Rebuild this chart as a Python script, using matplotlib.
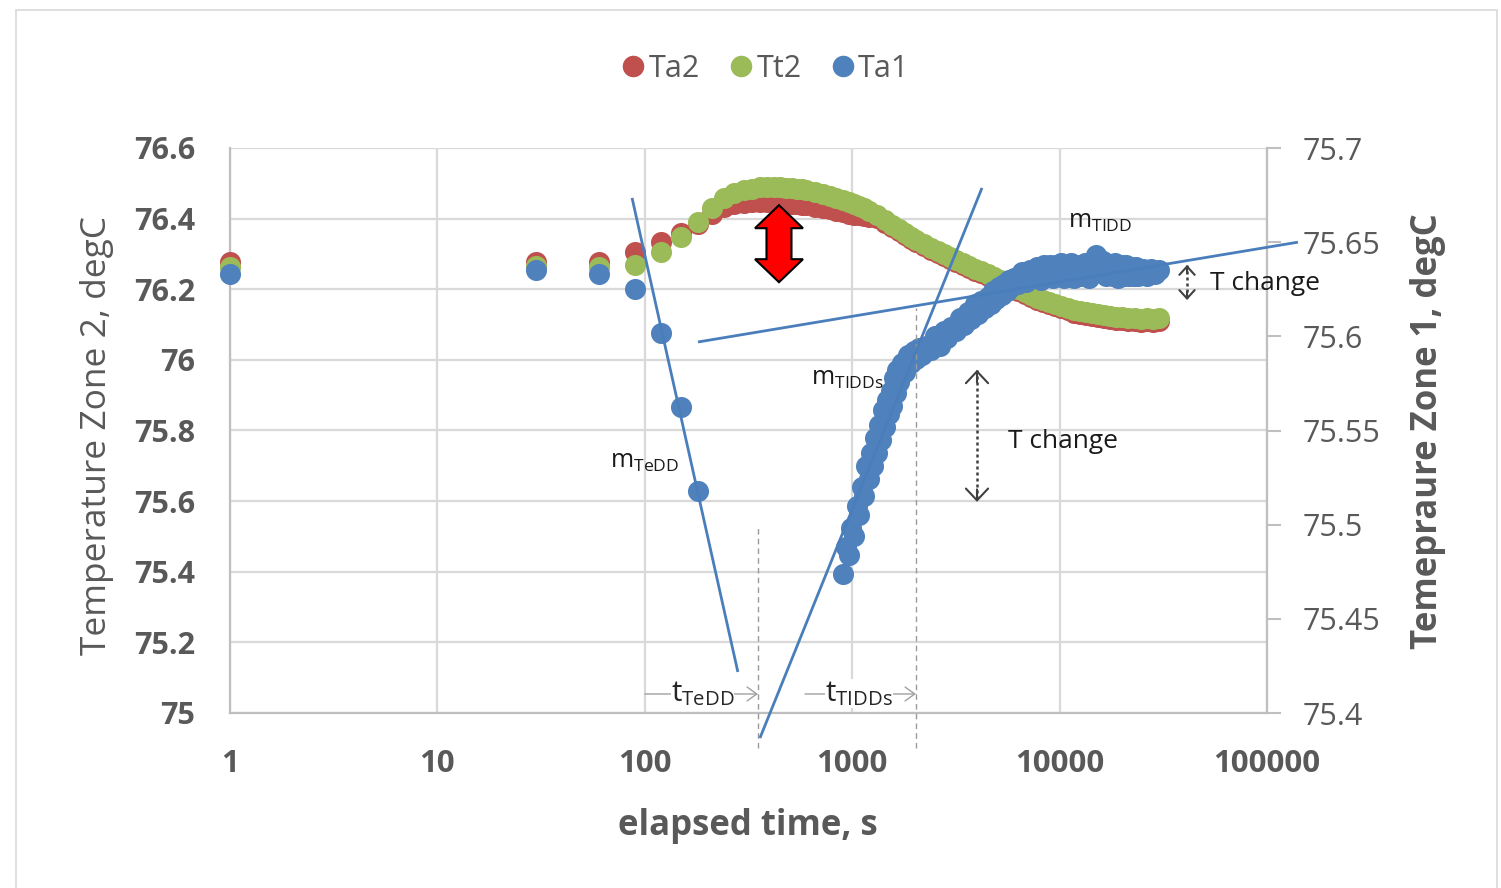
import matplotlib
matplotlib.use("Agg")
import matplotlib.pyplot as plt
import matplotlib.transforms as mtransforms
from matplotlib.patches import Polygon, Rectangle
from matplotlib.lines import Line2D
from matplotlib.ticker import NullLocator

plt.rcParams['font.family'] = ['Open Sans', 'DejaVu Sans']
plt.rcParams['mathtext.default'] = 'regular'

# ---------------- data ----------------
t_early = [1, 30, 60, 90, 120, 150, 180]
ta2_early = [76.276, 76.276, 76.276, 76.305, 76.333, 76.359, 76.384]
tt2_early = [76.262, 76.265, 76.262, 76.268, 76.305, 76.347, 76.390]
ta1_early = [75.633, 75.635, 75.633, 75.625, 75.602, 75.5625, 75.518]

t_zone2 = [210, 240, 270, 300, 330, 360, 390, 420, 450, 480, 510, 540, 570, 600,
           660, 720, 780, 840, 900, 960, 1020, 1080, 1140, 1200, 1320, 1440, 1560,
           1680, 1800, 1920, 2040, 2220, 2400, 2580, 2760, 2970, 3180, 3420, 3660,
           3930, 4200, 4500, 4830, 5160, 5520, 5910, 6330, 6780, 7260, 7770, 8310,
           8910, 9540, 10200, 10920, 11700, 12510, 13380, 14310, 15300, 16380,
           17520, 18750, 20070, 21480, 22980, 24600, 26310, 28170, 30000]
ta2_zone2 = [76.412, 76.432, 76.441, 76.444, 76.446, 76.446, 76.446, 76.446, 76.444,
             76.444, 76.441, 76.441, 76.438, 76.438, 76.432, 76.429, 76.427, 76.421,
             76.418, 76.414, 76.411, 76.409, 76.407, 76.405, 76.401, 76.389, 76.376,
             76.365, 76.354, 76.342, 76.334, 76.322, 76.311, 76.303, 76.294, 76.286,
             76.277, 76.269, 76.260, 76.252, 76.246, 76.237, 76.229, 76.220, 76.212,
             76.203, 76.195, 76.187, 76.178, 76.170, 76.164, 76.157, 76.152, 76.146,
             76.140, 76.134, 76.131, 76.128, 76.125, 76.122, 76.119, 76.117, 76.114,
             76.113, 76.110, 76.110, 76.108, 76.109, 76.107, 76.109]
tt2_zone2 = [76.429, 76.458, 76.472, 76.480, 76.483, 76.489, 76.489, 76.489, 76.489,
             76.486, 76.486, 76.483, 76.483, 76.480, 76.475, 76.469, 76.463, 76.458,
             76.452, 76.446, 76.441, 76.435, 76.429, 76.421, 76.410, 76.395, 76.381,
             76.370, 76.359, 76.347, 76.339, 76.327, 76.316, 76.308, 76.299, 76.291,
             76.282, 76.274, 76.265, 76.257, 76.251, 76.242, 76.234, 76.225, 76.217,
             76.208, 76.200, 76.192, 76.183, 76.175, 76.169, 76.163, 76.158, 76.152,
             76.146, 76.140, 76.138, 76.135, 76.132, 76.129, 76.126, 76.124, 76.121,
             76.121, 76.118, 76.118, 76.115, 76.118, 76.115, 76.118]

t_zone1 = [900, 930, 960, 990, 1020, 1050, 1080, 1110, 1140, 1170, 1200, 1230, 1260,
           1290, 1320, 1350, 1380, 1410, 1440, 1470, 1500, 1530, 1560, 1590, 1620,
           1650, 1680, 1740, 1800, 1860, 1920, 1980, 2040, 2100, 2160, 2280, 2400,
           2520, 2640, 2760, 2880, 3000, 3150, 3300, 3450, 3600, 3750, 3900, 4050,
           4200, 4350, 4500, 4650, 4800, 4950, 5100, 5250, 5400, 5550, 5700, 5850,
           6000, 6300, 6600, 6900, 7200, 7500, 7800, 8100, 8400, 8700, 9000, 9300,
           9600, 9900, 10200, 10500, 10800, 11100, 11400, 11700, 12000, 12600, 13200,
           13800, 14400, 15000, 15600, 16200, 16800, 17400, 18000, 18600, 19200,
           19800, 20400, 21000, 21600, 22200, 22800, 23400, 24000, 25200, 26400,
           27600, 28800, 30000]
ta1_zone1 = [75.474, 75.488, 75.484, 75.498, 75.494, 75.510, 75.505, 75.520, 75.515,
             75.531, 75.524, 75.538, 75.531, 75.546, 75.538, 75.553, 75.545, 75.561,
             75.552, 75.566, 75.559, 75.571, 75.563, 75.578, 75.570, 75.582, 75.576,
             75.586, 75.581, 75.590, 75.586, 75.592, 75.588, 75.594, 75.590, 75.595,
             75.593, 75.600, 75.595, 75.603, 75.599, 75.605, 75.603, 75.610, 75.606,
             75.613, 75.609, 75.617, 75.612, 75.619, 75.615, 75.621, 75.617, 75.624,
             75.620, 75.626, 75.622, 75.628, 75.624, 75.630, 75.626, 75.631, 75.628,
             75.634, 75.629, 75.635, 75.631, 75.637, 75.630, 75.638, 75.632, 75.638,
             75.631, 75.638, 75.632, 75.639, 75.631, 75.638, 75.632, 75.639, 75.631,
             75.638, 75.632, 75.639, 75.631, 75.638, 75.643, 75.634, 75.640, 75.632,
             75.638, 75.632, 75.639, 75.631, 75.638, 75.632, 75.638, 75.632, 75.637,
             75.632, 75.637, 75.632, 75.636, 75.632, 75.636, 75.633, 75.635]

ta2_t = t_early + t_zone2
ta2_v = ta2_early + ta2_zone2
tt2_t = t_early + t_zone2
tt2_v = tt2_early + tt2_zone2
ta1_t = t_early + t_zone1
ta1_v = ta1_early + ta1_zone1

series_names = ['Ta2', 'Tt2', 'Ta1']
series_colors = ['#C0504D', '#9BBB59', '#4F81BD']

x_ticks = [1, 10, 100, 1000, 10000, 100000]
x_ticklabels = ['1', '10', '100', '1000', '10000', '100000']
yl_ticks = [75, 75.2, 75.4, 75.6, 75.8, 76, 76.2, 76.4, 76.6]
yl_ticklabels = ['75', '75.2', '75.4', '75.6', '75.8', '76', '76.2', '76.4', '76.6']
yr_ticks = [75.4, 75.45, 75.5, 75.55, 75.6, 75.65, 75.7]
yr_ticklabels = ['75.4', '75.45', '75.5', '75.55', '75.6', '75.65', '75.7']

# annotation geometry (data coordinates on right axis)
trend_TeDD = ([86.8, 281], [75.6735, 75.4218])
trend_TIDDs = ([359, 4225], [75.3867, 75.6788])
trend_TIDD = ([180.5, 141000], [75.597, 75.650])
t_TeDD = 351.4
t_TIDDs = 2030

TXT = '#595959'
GRID = '#d9d9d9'
LINEBLUE = '#4a7ebb'

fig = plt.figure(figsize=(15.01, 8.88), dpi=100)
fig.patches.append(Rectangle((16 / 1501, -0.05), (1497 - 16) / 1501, 1 - 10 / 888 + 0.05,
                             transform=fig.transFigure, fill=False, edgecolor=GRID, lw=1.2))

ax = fig.add_axes([230 / 1501, 1 - 713 / 888, (1267 - 230) / 1501, (713 - 148) / 888])
ax2 = ax.twinx()

ax.set_xscale('log')
ax.set_xlim(1, 1e5)
ax.set_ylim(75, 76.6)
ax2.set_ylim(75.4, 75.7)
ax.xaxis.set_minor_locator(NullLocator())

ax.set_xticks(x_ticks, x_ticklabels, fontsize=22.5, fontweight='bold', color=TXT)
ax.set_yticks(yl_ticks, yl_ticklabels, fontsize=22, fontweight='bold', color=TXT)
ax2.set_yticks(yr_ticks, yr_ticklabels, fontsize=22, color=TXT)

ax.set_axisbelow(True)
ax.grid(True, color=GRID, lw=1.6)
ax.tick_params(axis='both', length=0)
ax.tick_params(axis='y', pad=25)
ax.tick_params(axis='x', pad=26)
ax2.tick_params(axis='y', length=10, width=1.5, color='#bfbfbf', direction='out', pad=16)

ax.spines['top'].set_visible(False)
ax.spines['right'].set_visible(False)
for s in ['left', 'bottom']:
    ax.spines[s].set_color('#bfbfbf')
    ax.spines[s].set_linewidth(1.6)
for s in ['left', 'bottom', 'top']:
    ax2.spines[s].set_visible(False)
ax2.spines['right'].set_color('#bfbfbf')
ax2.spines['right'].set_linewidth(1.6)

ms = 230
ax.scatter(ta2_t, ta2_v, s=ms, color=series_colors[0], linewidths=0, zorder=3, clip_on=False)
ax.scatter(tt2_t, tt2_v, s=ms, color=series_colors[1], linewidths=0, zorder=4, clip_on=False)
ax2.scatter(ta1_t, ta1_v, s=ms, color=series_colors[2], linewidths=0, zorder=3, clip_on=False)

# trend lines
for tx, ty in [trend_TeDD, trend_TIDDs, trend_TIDD]:
    ax2.plot(tx, ty, color=LINEBLUE, lw=2, zorder=6, clip_on=False, solid_capstyle='butt')

# dashed verticals
ax2.plot([t_TeDD, t_TeDD], [75.3814, 75.4988], color='#9a9a9a', lw=1, ls=(0, (4, 3)),
         zorder=5, clip_on=False)
ax2.plot([t_TIDDs, t_TIDDs], [75.3814, 75.6151], color='#9a9a9a', lw=1, ls=(0, (4, 3)),
         zorder=5, clip_on=False)

# horizontal time arrows
y_arrow = 75.4101
for x0, x1 in [(100, t_TeDD), (592, t_TIDDs)]:
    ax2.annotate('', xy=(x1, y_arrow), xytext=(x0, y_arrow),
                 arrowprops=dict(arrowstyle='->,head_length=0.7,head_width=0.5',
                                 color='#a0a0a0', lw=1, shrinkA=0, shrinkB=0),
                 annotation_clip=False, zorder=6)
ax2.text(190, y_arrow, 't$_{TeDD}$', fontsize=21, ha='center', va='center', color='#262626',
         bbox=dict(facecolor='white', edgecolor='none', pad=0), zorder=7, clip_on=False)
ax2.text(1080, y_arrow, 't$_{TIDDs}$', fontsize=21, ha='center', va='center', color='#262626',
         bbox=dict(facecolor='white', edgecolor='none', pad=0), zorder=7, clip_on=False)

# slope labels
ax2.text(10978, 75.6608, 'm$_{TIDD}$', fontsize=18, ha='left', va='center', color='#1a1a1a', zorder=8)
ax2.text(630, 75.5774, 'm$_{TIDDs}$', fontsize=18, ha='left', va='center', color='#1a1a1a', zorder=8)
ax2.text(67.9, 75.5338, 'm$_{TeDD}$', fontsize=18, ha='left', va='center', color='#1a1a1a', zorder=8)

# T change dotted double arrows
def dotted_double(tx, ytop, ybot, hl, hw, off):
    ax2.plot([tx, tx], [ytop, ybot], color='#404040', lw=1.8, ls=(0, (1.2, 1.2)), zorder=7,
             clip_on=False)
    ax2.annotate('', xy=(tx, ytop), xytext=(0, -off), textcoords='offset points',
                 arrowprops=dict(arrowstyle='->,head_length=%g,head_width=%g' % (hl, hw),
                                 color='#404040', lw=1.5, shrinkA=0, shrinkB=0),
                 annotation_clip=False, zorder=7)
    ax2.annotate('', xy=(tx, ybot), xytext=(0, off), textcoords='offset points',
                 arrowprops=dict(arrowstyle='->,head_length=%g,head_width=%g' % (hl, hw),
                                 color='#404040', lw=1.5, shrinkA=0, shrinkB=0),
                 annotation_clip=False, zorder=7)

dotted_double(3997, 75.5822, 75.5121, 0.85, 0.8, 9)
dotted_double(41150, 75.6379, 75.6193, 0.6, 0.55, 6)
ax2.text(5638, 75.5444, 'T change', fontsize=19, ha='left', va='center', color='#1a1a1a', zorder=8)
ax2.text(53100, 75.6278, 'T change', fontsize=19, ha='left', va='center', color='#1a1a1a',
         zorder=8, clip_on=False)

# red block double arrow (size in inches, centred on a data point)
arrow_center = (443.6, 76.329)
verts = [(0, 0.385), (0.24, 0.155), (0.125, 0.155), (0.125, -0.155), (0.24, -0.155),
         (0, -0.385), (-0.24, -0.155), (-0.125, -0.155), (-0.125, 0.155), (-0.24, 0.155)]
trans = fig.dpi_scale_trans + mtransforms.ScaledTranslation(arrow_center[0], arrow_center[1],
                                                            ax.transData)
ax2.add_patch(Polygon(verts, closed=True, facecolor='#ff0000', edgecolor='black', lw=1.5,
                      transform=trans, zorder=10, clip_on=False))

# axis titles
fig.text(97 / 1501, 1 - 435 / 888, 'Temperature Zone 2, degC', rotation=90, ha='center',
         va='center', fontsize=25.5, color=TXT)
fig.text(1428 / 1501, 1 - 431 / 888, 'Temepraure Zone 1, degC', rotation=90, ha='center',
         va='center', fontsize=25, fontweight='bold', color=TXT)
fig.text(748 / 1501, 1 - 826 / 888, 'elapsed time, s', ha='center', va='center', fontsize=25,
         fontweight='bold', color=TXT)

# legend
handles = [Line2D([], [], ls='none', marker='o', markersize=15.5, markerfacecolor=c,
                  markeredgewidth=0) for c in series_colors]
fig.legend(handles, series_names, loc='center', bbox_to_anchor=(766 / 1501, 1 - 69 / 888),
           ncol=3, frameon=False, fontsize=22, labelcolor=TXT, handlelength=0.7,
           handletextpad=0.15, columnspacing=1.0)

fig.savefig('out.png', dpi=100)
